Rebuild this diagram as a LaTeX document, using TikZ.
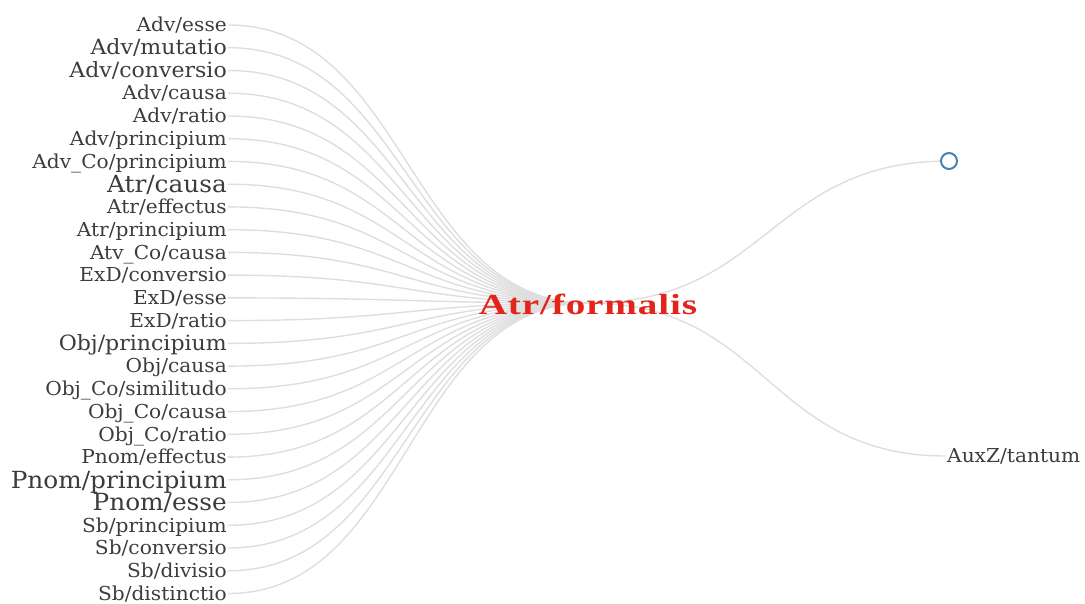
\documentclass[tikz,border=0pt]{standalone}
\usepackage{fontspec}
\usepackage{xcolor}
\usepackage{tikz}
\usetikzlibrary{backgrounds}
\newfontfamily\leaffont[FakeStretch=1.05]{DejaVu Serif}
\newfontfamily\rootfont[FakeStretch=1.35,LetterSpace=3]{Liberation Serif}
\definecolor{leafgray}{RGB}{60,60,60}
\definecolor{linkgray}{RGB}{222,222,222}
\definecolor{rootred}{RGB}{226,36,26}
\definecolor{nodeblue}{RGB}{70,130,180}
\tikzset{
  leaf/.style={anchor=east,inner sep=1pt,text=leafgray,text height=15.4pt,text depth=2pt,
    font=\leaffont\fontsize{19.2}{21}\selectfont},
  leafm/.style={leaf,text height=16.6pt,font=\leaffont\fontsize{21}{23}\selectfont},
  leafb/.style={leaf,text height=18.4pt,font=\leaffont\fontsize{23.6}{26}\selectfont},
  rootlabel/.style={text=rootred,inner sep=0pt,text height=22pt,text depth=0pt,
    font=\rootfont\bfseries\fontsize{29}{32}\selectfont},
  link/.style={draw=linkgray,line width=1.4pt},
  collapsed/.style={circle,draw=nodeblue,fill=white,line width=2pt,minimum size=16pt,inner sep=0pt}
}

\begin{document}
\begin{tikzpicture}[x=1pt,y=-1pt]
\useasboundingbox (0,0) rectangle (1085,604);
% the root, in the middle
\node[rootlabel,anchor=base] (root) at (588,314) {Atr/formalis};
% children on the left
\node[leaf]  (AdvEsse)        at (228,25.0)  {Adv/esse};
\node[leafm] (AdvMutatio)     at (228,47.7)  {Adv/mutatio};
\node[leafm] (AdvConversio)   at (228,70.5)  {Adv/conversio};
\node[leaf]  (AdvCausa)       at (228,93.2)  {Adv/causa};
\node[leaf]  (AdvRatio)       at (228,116.0) {Adv/ratio};
\node[leaf]  (AdvPrincipium)  at (228,138.7) {Adv/principium};
\node[leaf]  (AdvCoPrinc)     at (228,161.4) {Adv\_Co/principium};
\node[leafb] (AtrCausa)       at (228,184.2) {Atr/causa};
\node[leaf]  (AtrEffectus)    at (228,206.9) {Atr/effectus};
\node[leaf]  (AtrPrincipium)  at (228,229.7) {Atr/principium};
\node[leaf]  (AtvCoCausa)     at (228,252.4) {Atv\_Co/causa};
\node[leaf]  (ExDConversio)   at (228,275.1) {ExD/conversio};
\node[leaf]  (ExDEsse)        at (228,297.9) {ExD/esse};
\node[leaf]  (ExDRatio)       at (228,320.6) {ExD/ratio};
\node[leafm] (ObjPrincipium)  at (228,343.4) {Obj/principium};
\node[leaf]  (ObjCausa)       at (228,366.1) {Obj/causa};
\node[leaf]  (ObjCoSimil)     at (228,388.8) {Obj\_Co/similitudo};
\node[leaf]  (ObjCoCausa)     at (228,411.6) {Obj\_Co/causa};
\node[leaf]  (ObjCoRatio)     at (228,434.3) {Obj\_Co/ratio};
\node[leaf]  (PnomEffectus)   at (228,457.1) {Pnom/effectus};
\node[leafb] (PnomPrincipium) at (228,479.8) {Pnom/principium};
\node[leafb] (PnomEsse)       at (228,502.5) {Pnom/esse};
\node[leaf]  (SbPrincipium)   at (228,525.3) {Sb/principium};
\node[leaf]  (SbConversio)    at (228,548.0) {Sb/conversio};
\node[leaf]  (SbDivisio)      at (228,570.8) {Sb/divisio};
\node[leaf]  (SbDistinctio)   at (228,593.5) {Sb/distinctio};
% children on the right
\node[collapsed] (more) at (949,161) {};
\node[leaf,anchor=west] (AuxZTantum) at (946,456) {AuxZ/tantum};
% links, drawn below everything
\begin{scope}[on background layer]
\draw[link] (AdvEsse.east)        .. controls +(180,0) and +(-180,0) .. (root.center);
\draw[link] (AdvMutatio.east)     .. controls +(180,0) and +(-180,0) .. (root.center);
\draw[link] (AdvConversio.east)   .. controls +(180,0) and +(-180,0) .. (root.center);
\draw[link] (AdvCausa.east)       .. controls +(180,0) and +(-180,0) .. (root.center);
\draw[link] (AdvRatio.east)       .. controls +(180,0) and +(-180,0) .. (root.center);
\draw[link] (AdvPrincipium.east)  .. controls +(180,0) and +(-180,0) .. (root.center);
\draw[link] (AdvCoPrinc.east)     .. controls +(180,0) and +(-180,0) .. (root.center);
\draw[link] (AtrCausa.east)       .. controls +(180,0) and +(-180,0) .. (root.center);
\draw[link] (AtrEffectus.east)    .. controls +(180,0) and +(-180,0) .. (root.center);
\draw[link] (AtrPrincipium.east)  .. controls +(180,0) and +(-180,0) .. (root.center);
\draw[link] (AtvCoCausa.east)     .. controls +(180,0) and +(-180,0) .. (root.center);
\draw[link] (ExDConversio.east)   .. controls +(180,0) and +(-180,0) .. (root.center);
\draw[link] (ExDEsse.east)        .. controls +(180,0) and +(-180,0) .. (root.center);
\draw[link] (ExDRatio.east)       .. controls +(180,0) and +(-180,0) .. (root.center);
\draw[link] (ObjPrincipium.east)  .. controls +(180,0) and +(-180,0) .. (root.center);
\draw[link] (ObjCausa.east)       .. controls +(180,0) and +(-180,0) .. (root.center);
\draw[link] (ObjCoSimil.east)     .. controls +(180,0) and +(-180,0) .. (root.center);
\draw[link] (ObjCoCausa.east)     .. controls +(180,0) and +(-180,0) .. (root.center);
\draw[link] (ObjCoRatio.east)     .. controls +(180,0) and +(-180,0) .. (root.center);
\draw[link] (PnomEffectus.east)   .. controls +(180,0) and +(-180,0) .. (root.center);
\draw[link] (PnomPrincipium.east) .. controls +(180,0) and +(-180,0) .. (root.center);
\draw[link] (PnomEsse.east)       .. controls +(180,0) and +(-180,0) .. (root.center);
\draw[link] (SbPrincipium.east)   .. controls +(180,0) and +(-180,0) .. (root.center);
\draw[link] (SbConversio.east)    .. controls +(180,0) and +(-180,0) .. (root.center);
\draw[link] (SbDivisio.east)      .. controls +(180,0) and +(-180,0) .. (root.center);
\draw[link] (SbDistinctio.east)   .. controls +(180,0) and +(-180,0) .. (root.center);
\draw[link] (root.center) .. controls +(180,0) and +(-180,0) .. (more.center);
\draw[link] (root.center) .. controls +(179,0) and +(-179,0) .. (AuxZTantum.west);
\end{scope}
\end{tikzpicture}
\end{document}
